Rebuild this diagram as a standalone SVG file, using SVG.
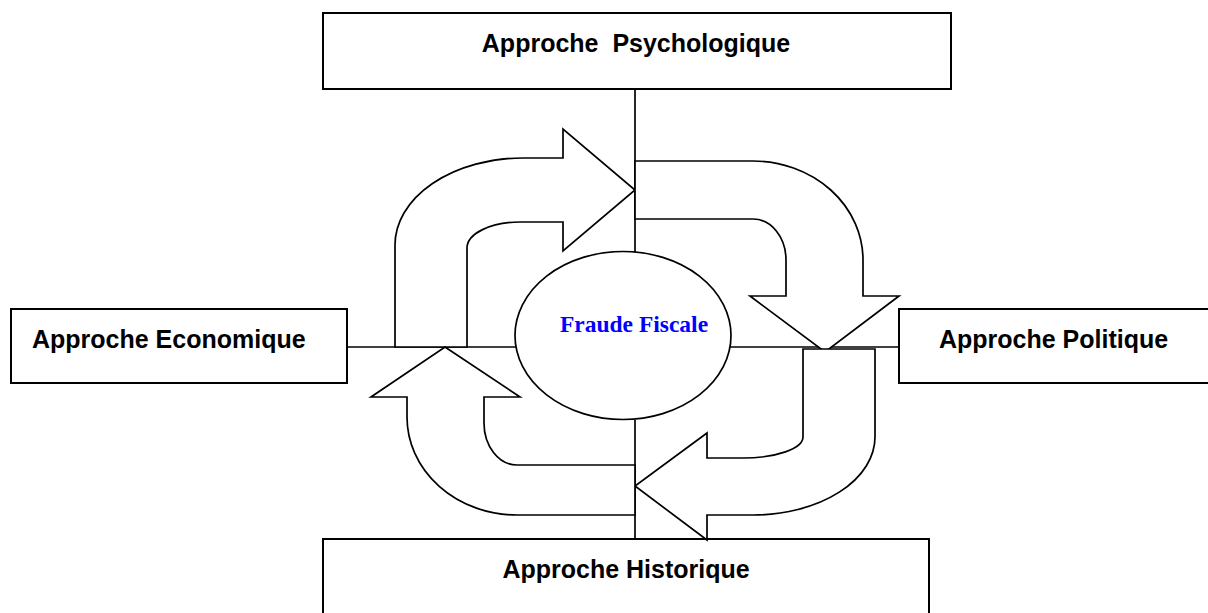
<svg xmlns="http://www.w3.org/2000/svg" width="1208" height="613" viewBox="0 0 1208 613">
<style>
.box{fill:#fff;stroke:#000;stroke-width:2}
.lbl{font-family:"Liberation Sans",Arial,sans-serif;font-weight:bold;font-size:25px;fill:#000;white-space:pre}
.ln{stroke:#000;stroke-width:1.7;fill:none}
.arr{fill:#fff;stroke:#000;stroke-width:1.7;stroke-linejoin:miter}
.ctr{font-family:"Liberation Serif","Times New Roman",serif;font-weight:bold;font-size:23.5px;fill:#0000ff}
</style>
<rect width="1208" height="613" fill="#fff"/>
<g id="psychologique">
<rect class="box" x="323" y="13" width="628" height="76"/>
<text class="lbl" x="636" y="52" text-anchor="middle" xml:space="preserve">Approche  Psychologique</text>
</g>
<g id="economique">
<rect class="box" x="11" y="309" width="336" height="74"/>
<text class="lbl" x="32" y="348">Approche Economique</text>
</g>
<g id="politique">
<rect class="box" x="899" y="309" width="320" height="74"/>
<text class="lbl" x="939" y="348">Approche Politique</text>
</g>
<g id="historique">
<rect class="box" x="323" y="539" width="606" height="90"/>
<text class="lbl" x="626" y="578" text-anchor="middle">Approche Historique</text>
</g>
<g id="connectors">
<line class="ln" x1="635" y1="89" x2="635" y2="253"/>
<line class="ln" x1="347" y1="347" x2="516" y2="347"/>
<line class="ln" x1="730" y1="347" x2="899" y2="347"/>
<line class="ln" x1="635" y1="420" x2="635" y2="539"/>
<path class="arr" d="M395,347 L395,245 A128,87 0 0 1 523,158 L563,158 L563,129 L635,190 L563,251 L563,222 L520,222 A53,26 0 0 0 467,248 L467,347 Z"/>
<path class="arr" d="M635,161 L753,161 A110,99 0 0 1 863,260 L863,296 L899,296 L825,352 L750,296 L786,296 L786,260 A33,41 0 0 0 753,219 L635,219 Z"/>
<path class="arr" d="M803,349 L875,349 L875,437 A122,78 0 0 1 753,515 L707,515 L707,540 L635,486 L707,433 L707,458 L743,458 A60,21 0 0 0 803,437 Z"/>
<path class="arr" d="M445,347 L520,397 L484,397 L484,423 A33,42 0 0 0 517,465 L635,465 L635,515 L517,515 A110,98 0 0 1 407,417 L407,397 L371,397 Z"/>
</g>
<g id="fraude-fiscale">
<ellipse cx="623" cy="335.5" rx="108" ry="84" fill="#fff" stroke="#000" stroke-width="1.7"/>
<text class="ctr" x="634" y="332" text-anchor="middle">Fraude Fiscale</text>
</g>
</svg>
